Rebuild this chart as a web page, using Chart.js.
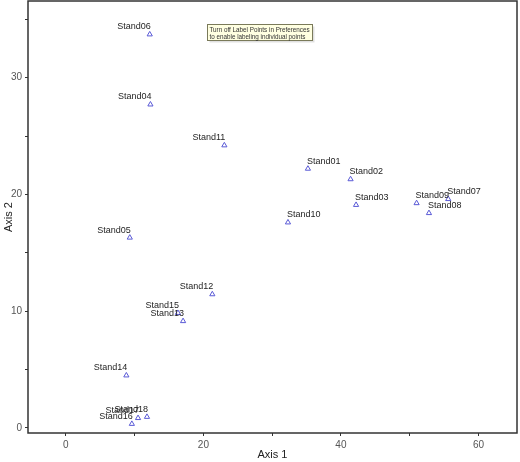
<!DOCTYPE html>
<html>
<head>
<meta charset="utf-8">
<script src="https://cdn.jsdelivr.net/npm/chart.js@4.4.1/dist/chart.umd.min.js"></script>
<style>
  html, body { margin: 0; padding: 0; background: #fff; }
  canvas { display: block; }
</style>
</head>
<body>
<canvas id="ordination" width="520" height="462"></canvas>
<script>
// Stand scores
const standNames = ['Stand01', 'Stand02', 'Stand03', 'Stand04', 'Stand05', 'Stand06',
    'Stand07', 'Stand08', 'Stand09', 'Stand10', 'Stand11', 'Stand12',
    'Stand13', 'Stand14', 'Stand15', 'Stand16', 'Stand17', 'Stand18'];
const axis1Scores = [35.2, 41.4, 42.2, 12.3, 9.3, 12.2, 55.6, 52.8, 51.0, 32.3, 23.05, 21.3,
    17.05, 8.8, 16.3, 9.6, 10.5, 11.8];
const axis2Scores = [22.2, 21.3, 19.1, 27.7, 16.3, 33.7, 19.6, 18.4, 19.25, 17.6, 24.2, 11.45,
    9.15, 4.5, 9.85, 0.35, 0.85, 0.95];

// Axis extents and label spacing
const axis1Range = [-5.5, 65.6];
const axis2Range = [-0.43, 36.56];
const axis1LabelEvery = 20;
const axis2LabelEvery = 10;

const hintLines = ['Turn off Label Points in Preferences', 'to enable labeling individual points'];

const points = axis1Scores.map((x, i) => ({ x: x, y: axis2Scores[i] }));

// Writes each stand's name beside its triangle
const standLabels = {
    id: 'standLabels',
    afterDatasetsDraw(chart) {
        const ctx = chart.ctx;
        const xs = chart.scales.x, ys = chart.scales.y;
        ctx.save();
        ctx.font = '9px "Liberation Sans", Arial, sans-serif';
        ctx.fillStyle = '#1e1e1e';
        ctx.textBaseline = 'alphabetic';
        standNames.forEach((name, i) => {
            const px = xs.getPixelForValue(axis1Scores[i]);
            const py = ys.getPixelForValue(axis2Scores[i]);
            const onRight = axis1Scores[i] > 30;
            ctx.textAlign = onRight ? 'left' : 'right';
            ctx.fillText(name, onRight ? px - 1 : px + 1, py - 5);
        });
        ctx.restore();
    }
};

// Frame round the plot area plus the little yellow hint box
const frameAndHint = {
    id: 'frameAndHint',
    afterDraw(chart) {
        const ctx = chart.ctx;
        const a = chart.chartArea;
        ctx.save();
        ctx.strokeStyle = '#333';
        ctx.lineWidth = 1.5;
        ctx.strokeRect(a.left, a.top, a.right - a.left, a.bottom - a.top);

        const bx = 207.5, by = 24.5, bw = 105, bh = 16;
        ctx.fillStyle = 'rgba(0,0,0,0.12)';
        ctx.fillRect(bx + 2, by + 2, bw, bh);
        ctx.fillStyle = '#ffffe1';
        ctx.fillRect(bx, by, bw, bh);
        ctx.lineWidth = 1;
        ctx.strokeStyle = '#7a7a5a';
        ctx.strokeRect(bx, by, bw, bh);
        ctx.fillStyle = '#333';
        ctx.font = '6.3px "Liberation Sans", Arial, sans-serif';
        ctx.textAlign = 'left';
        ctx.textBaseline = 'alphabetic';
        ctx.fillText(hintLines[0], bx + 2, by + 7);
        ctx.fillText(hintLines[1], bx + 2, by + 14);
        ctx.restore();
    }
};

new Chart(document.getElementById('ordination'), {
    type: 'scatter',
    data: {
        datasets: [{
            label: 'Stands',
            data: points,
            pointStyle: 'triangle',
            pointRadius: 3,
            pointBorderWidth: 1,
            pointBorderColor: '#5a5ad6',
            pointBackgroundColor: 'rgba(0,0,0,0)'
        }]
    },
    options: {
        responsive: false,
        animation: false,
        devicePixelRatio: 1,
        // autoPadding off so the plot frame sits where the original one does
        layout: { autoPadding: false, padding: { top: 1, right: 3, left: 0, bottom: 0 } },
        plugins: {
            legend: { display: false },
            tooltip: { enabled: false }
        },
        scales: {
            x: {
                type: 'linear',
                min: axis1Range[0],
                max: axis1Range[1],
                afterFit: s => { s.height = 29; s.paddingLeft = 0; s.paddingRight = 0; },
                border: { display: false },
                grid: { drawOnChartArea: false, tickLength: 3, tickColor: '#333', lineWidth: 1 },
                ticks: {
                    stepSize: 10,
                    includeBounds: false,
                    autoSkip: false,
                    maxRotation: 0,
                    padding: 3,
                    color: '#555',
                    font: { family: '"Liberation Sans", Arial, sans-serif', size: 10 },
                    callback: v => (v % axis1LabelEvery === 0 ? v : '')
                },
                title: {
                    display: true,
                    text: 'Axis 1',
                    color: '#222',
                    font: { family: '"Liberation Sans", Arial, sans-serif', size: 11 },
                    padding: { top: 0, bottom: 0 }
                }
            },
            y: {
                type: 'linear',
                min: axis2Range[0],
                max: axis2Range[1],
                afterFit: s => { s.width = 28; s.paddingTop = 0; s.paddingBottom = 0; },
                border: { display: false },
                grid: { drawOnChartArea: false, tickLength: 3, tickColor: '#333', lineWidth: 1 },
                ticks: {
                    stepSize: 5,
                    includeBounds: false,
                    autoSkip: false,
                    padding: 3,
                    color: '#555',
                    font: { family: '"Liberation Sans", Arial, sans-serif', size: 10 },
                    callback: v => (v % axis2LabelEvery === 0 ? v : '')
                },
                title: {
                    display: true,
                    text: 'Axis 2',
                    color: '#222',
                    font: { family: '"Liberation Sans", Arial, sans-serif', size: 11 },
                    padding: { top: 2, bottom: 0 }
                }
            }
        }
    },
    plugins: [standLabels, frameAndHint]
});
</script>
</body>
</html>
